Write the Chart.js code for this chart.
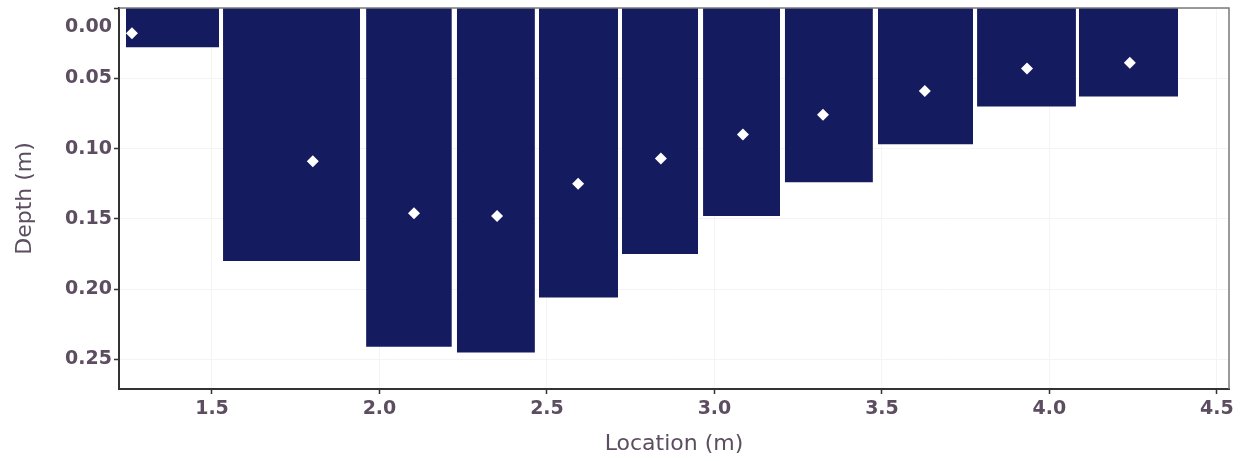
<!DOCTYPE html>
<html>
<head>
<meta charset="utf-8">
<script src="https://cdn.jsdelivr.net/npm/chart.js@4"></script>
<style>
  html, body { margin: 0; padding: 0; background: #fff; }
  #wrap { width: 1246px; height: 461px; }
</style>
</head>
<body>
<div id="wrap"><canvas id="myChart"></canvas></div>
<script>
// verticals (location of each measurement and its 0.6 depth point)
const pointLoc = [1.261, 1.801, 2.103, 2.351, 2.593, 2.840, 3.085, 3.324, 3.628, 3.933, 4.240];
const pointDepth = [0.018, 0.109, 0.146, 0.148, 0.125, 0.107, 0.090, 0.076, 0.059, 0.043, 0.039];
// sub-sections (left edge, right edge, depth)
const barLeft = [1.243, 1.533, 1.960, 2.231, 2.476, 2.724, 2.966, 3.210, 3.488, 3.784, 4.088];
const barRight = [1.521, 1.942, 2.216, 2.464, 2.712, 2.951, 3.196, 3.473, 3.772, 4.079, 4.384];
const barDepth = [0.028, 0.180, 0.241, 0.245, 0.206, 0.175, 0.148, 0.124, 0.097, 0.070, 0.063];
const xTicks = [1.5, 2.0, 2.5, 3.0, 3.5, 4.0, 4.5];
const yTicks = [0.00, 0.05, 0.10, 0.15, 0.20, 0.25];

const textColor = '#5c4e60';
const barColor = '#151b5f';

const datasets = [];
for (let i = 0; i < barDepth.length; i++) {
    datasets.push({
        type: 'line',
        order: 1,
        data: [{x: barLeft[i], y: barDepth[i]}, {x: barRight[i], y: barDepth[i]}],
        fill: 'origin',
        backgroundColor: barColor,
        borderColor: barColor,
        borderWidth: 0,
        pointRadius: 0
    });
}
datasets.push({
    type: 'scatter',
    order: -1,
    data: pointLoc.map((x, i) => ({x: x, y: pointDepth[i]})),
    pointStyle: 'rectRot',
    pointRadius: 6,
    backgroundColor: '#ffffff',
    borderColor: '#ffffff',
    borderWidth: 0
});

const frame = {
    id: 'frame',
    afterDatasetsDraw(chart) {
        const a = chart.chartArea;
        const c = chart.ctx;
        c.save();
        c.strokeStyle = '#7a7a7a';
        c.lineWidth = 1.5;
        c.beginPath();
        c.moveTo(a.left, a.top);
        c.lineTo(a.right, a.top);
        c.lineTo(a.right, a.bottom);
        c.stroke();
        c.restore();
    }
};

const ctx = document.getElementById('myChart').getContext('2d');
const myChart = new Chart(ctx, {
    data: { datasets: datasets },
    plugins: [frame],
    options: {
        responsive: true,
        maintainAspectRatio: false,
        animation: false,
        layout: { padding: { top: 8, right: 17, left: 0, bottom: 0 } },
        plugins: {
            legend: { display: false },
            tooltip: { enabled: false }
        },
        scales: {
            x: {
                type: 'linear',
                min: 1.2224,
                max: 4.536,
                afterFit: (s) => { s.height = 72; s.paddingLeft = 0; s.paddingRight = 0; },
                afterBuildTicks: (s) => { s.ticks = xTicks.map(v => ({value: v})); },
                ticks: {
                    color: textColor,
                    padding: 4,
                    autoSkip: false,
                    font: { family: 'DejaVu Sans', size: 19, weight: 'bold' },
                    callback: (v) => Number(v).toFixed(1)
                },
                grid: { color: '#f4f4f4', tickColor: '#333', tickLength: 5, tickWidth: 1.5 },
                border: { color: '#333', width: 2 },
                title: {
                    display: true,
                    text: 'Location (m)',
                    color: textColor,
                    font: { family: 'DejaVu Sans', size: 22 },
                    padding: { top: 0, bottom: 4 }
                }
            },
            y: {
                type: 'linear',
                reverse: true,
                min: 0,
                max: 0.271,
                afterFit: (s) => { s.width = 119; s.paddingTop = 0; s.paddingBottom = 0; },
                afterBuildTicks: (s) => { s.ticks = yTicks.map(v => ({value: v})); },
                ticks: {
                    color: textColor,
                    padding: 2,
                    autoSkip: false,
                    font: (c) => ({ family: 'DejaVu Sans', size: 19, weight: 'bold', lineHeight: c.index === 0 ? 2.0 : 1.2 }),
                    callback: (v) => v === 0 ? ['', '0.00'] : Number(v).toFixed(2)
                },
                grid: { color: '#f4f4f4', tickColor: '#333', tickLength: 5, tickWidth: 1.5 },
                border: { color: '#333', width: 2 },
                title: {
                    display: true,
                    text: 'Depth (m)',
                    color: textColor,
                    font: { family: 'DejaVu Sans', size: 22 },
                    padding: { top: 12, bottom: 0 }
                }
            }
        }
    }
});
</script>
</body>
</html>
